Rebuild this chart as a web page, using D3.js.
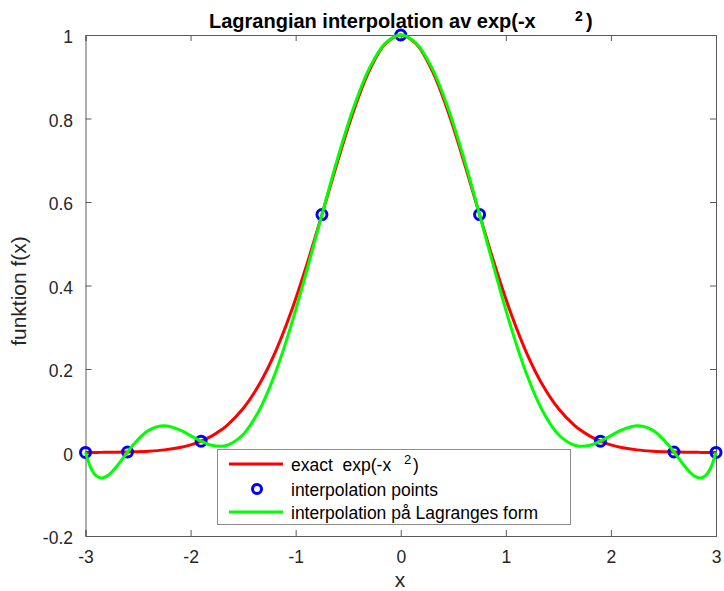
<!DOCTYPE html>
<html><head><meta charset="utf-8">
<script src="https://cdn.jsdelivr.net/npm/d3@7"></script>
<style>body{margin:0;background:#fff}svg{display:block}text{font-family:"Liberation Sans",Arial,Helvetica,sans-serif;white-space:pre}</style>
</head><body><svg id="c" width="724" height="591"></svg>
<script>
// Data
const xs = [-3.0,-2.95,-2.9,-2.85,-2.8,-2.75,-2.7,-2.6,-2.55,-2.4,-2.25,-2.1,-2.0,-1.95,-1.9,-1.8,-1.7,-1.65,-1.5,-1.35,-1.2,-1.05,-0.9,-0.75,-0.6,-0.45,-0.3,-0.15,0,
            0.15,0.3,0.45,0.6,0.75,0.9,1.05,1.2,1.35,1.5,1.65,1.7,1.8,1.9,1.95,2.0,2.1,2.25,2.4,2.55,2.6,2.7,2.75,2.8,2.85,2.9,2.95,3.0];
const exactY = [0.0001,0.0002,0.0002,0.0003,0.0004,0.0005,0.0007,0.0012,0.0015,0.0032,0.0063,0.0122,0.0183,0.0223,0.0271,0.0392,0.0556,0.0657,0.1054,0.1617,0.2369,0.3321,0.4449,0.5698,0.6977,0.8167,0.9139,0.9778,1.0,
            0.9778,0.9139,0.8167,0.6977,0.5698,0.4449,0.3321,0.2369,0.1617,0.1054,0.0657,0.0556,0.0392,0.0271,0.0223,0.0183,0.0122,0.0063,0.0032,0.0015,0.0012,0.0007,0.0005,0.0004,0.0003,0.0002,0.0002,0.0001];
const lagrangeY = [0.0001,-0.0365,-0.0555,-0.0612,-0.0573,-0.0468,-0.0323,0.0012,0.0172,0.0529,0.0638,0.0536,0.0405,0.0336,0.0271,0.0173,0.0149,0.0174,0.0432,0.0994,0.1862,0.2992,0.4306,0.5698,0.7052,0.8252,0.9194,0.9794,1.0,
            0.9794,0.9194,0.8252,0.7052,0.5698,0.4306,0.2992,0.1862,0.0994,0.0432,0.0174,0.0149,0.0173,0.0271,0.0336,0.0405,0.0536,0.0638,0.0529,0.0172,0.0012,-0.0323,-0.0468,-0.0573,-0.0612,-0.0555,-0.0365,0.0001];
const nodeX = [-3,-2.6,-1.9,-0.75,0,0.75,1.9,2.6,3];
const nodeY = [0.0001,0.0012,0.0271,0.5698,1.0,0.5698,0.0271,0.0012,0.0001];
const xTicks = [-3,-2,-1,0,1,2,3];
const yTicks = [-0.2,0,0.2,0.4,0.6,0.8,1];
const xTickLabels = ["-3","-2","-1","0","1","2","3"];
const yTickLabels = ["-0.2","0","0.2","0.4","0.6","0.8","1"];
const legendLabels = ["exact  exp(-x", "interpolation points", "interpolation på Lagranges form"];

const svg = d3.select("#c");
const L=85.5, R=716, T=35, B=536;
const x = d3.scaleLinear().domain([-3,3]).range([L,R]);
const y = d3.scaleLinear().domain([-0.2,1]).range([B,T]);
const axCol = "#262626";
const boxCol = "#5a5a5a";
const FS = "17.5px";

// axes
const gx = svg.append("g").attr("transform",`translate(0,${B})`).call(d3.axisBottom(x).tickValues(xTicks).tickSize(-6).tickFormat((d,i)=>xTickLabels[i]));
const gxt = svg.append("g").attr("transform",`translate(0,${T})`).call(d3.axisTop(x).tickValues(xTicks).tickSize(-6).tickFormat(""));
const gy = svg.append("g").attr("transform",`translate(${L},0)`).call(d3.axisLeft(y).tickValues(yTicks).tickSize(-6).tickFormat((d,i)=>yTickLabels[i]));
const gyr = svg.append("g").attr("transform",`translate(${R},0)`).call(d3.axisRight(y).tickValues(yTicks).tickSize(-6).tickFormat(""));
[gx,gxt,gy,gyr].forEach(g=>{
  g.select(".domain").attr("stroke",boxCol).attr("stroke-width",1);
  g.selectAll(".tick line").attr("stroke",boxCol);
  g.selectAll("text").attr("fill",axCol).style("font-size",FS).style("font-family","'Liberation Sans',Arial,sans-serif");
});
gx.selectAll(".tick text").attr("y",27).attr("dy",0);
gy.selectAll(".tick text").attr("x",-12.5).attr("dy",7.5);

const pts = xs.map((v,i)=>[v,exactY[i],lagrangeY[i]]);
const lineE = d3.line().x(d=>x(d[0])).y(d=>y(d[1])).curve(d3.curveCatmullRom.alpha(0.5));
const lineG = d3.line().x(d=>x(d[0])).y(d=>y(d[2])).curve(d3.curveCatmullRom.alpha(0.5));

svg.append("path").datum(pts).attr("d",lineE).attr("fill","none").attr("stroke","#ff0000").attr("stroke-width",3);
svg.selectAll("circle.node").data(nodeX.map((v,i)=>[v,nodeY[i]])).join("circle").attr("class","node")
  .attr("cx",d=>x(d[0])).attr("cy",d=>y(d[1])).attr("r",5).attr("fill","none").attr("stroke","#0000ff").attr("stroke-width",3);
svg.append("path").datum(pts).attr("d",lineG).attr("fill","none").attr("stroke","#00ff00").attr("stroke-width",3);

// title
const title = svg.append("text").attr("x",209).attr("y",27.5).attr("font-weight","bold").style("font-size","20px").attr("fill","#000");
title.append("tspan").text("Lagrangian interpolation av exp(-x");
title.append("tspan").attr("x",575).attr("dy",-7).style("font-size","14px").text("2");
title.append("tspan").attr("x",586).attr("dy",7).text(")");

// axis labels
svg.append("text").attr("x",400).attr("y",587).attr("text-anchor","middle").style("font-size","21px").attr("fill",axCol).text("x");
svg.append("text").attr("transform",`translate(26,291) rotate(-90)`).attr("text-anchor","middle").style("font-size","21px").attr("fill",axCol).text("funktion f(x)");

// legend
const lg = svg.append("g");
lg.append("rect").attr("x",217.5).attr("y",449.5).attr("width",353).attr("height",75).attr("fill","#fff").attr("stroke","#8c8c8c").attr("stroke-width",1);
const rows=[464,489,512];
lg.append("line").attr("x1",229).attr("x2",283).attr("y1",rows[0]).attr("y2",rows[0]).attr("stroke","#ff0000").attr("stroke-width",3);
lg.append("circle").attr("cx",257).attr("cy",rows[1]).attr("r",4.5).attr("fill","none").attr("stroke","#0000ff").attr("stroke-width",3);
lg.append("line").attr("x1",229).attr("x2",283).attr("y1",rows[2]).attr("y2",rows[2]).attr("stroke","#00ff00").attr("stroke-width",3);
const t0 = lg.append("text").attr("x",291).attr("y",rows[0]+6.5).style("font-size",FS).attr("fill","#000");
t0.append("tspan").text(legendLabels[0]);
t0.append("tspan").attr("x",404).attr("dy",-7).style("font-size","13px").text("2");
t0.append("tspan").attr("x",413).attr("dy",7).text(")");
lg.append("text").attr("x",291).attr("y",rows[1]+6.5).style("font-size",FS).attr("fill","#000").text(legendLabels[1]);
lg.append("text").attr("x",291).attr("y",rows[2]+6.5).style("font-size",FS).attr("fill","#000").text(legendLabels[2]);
</script></body></html>
